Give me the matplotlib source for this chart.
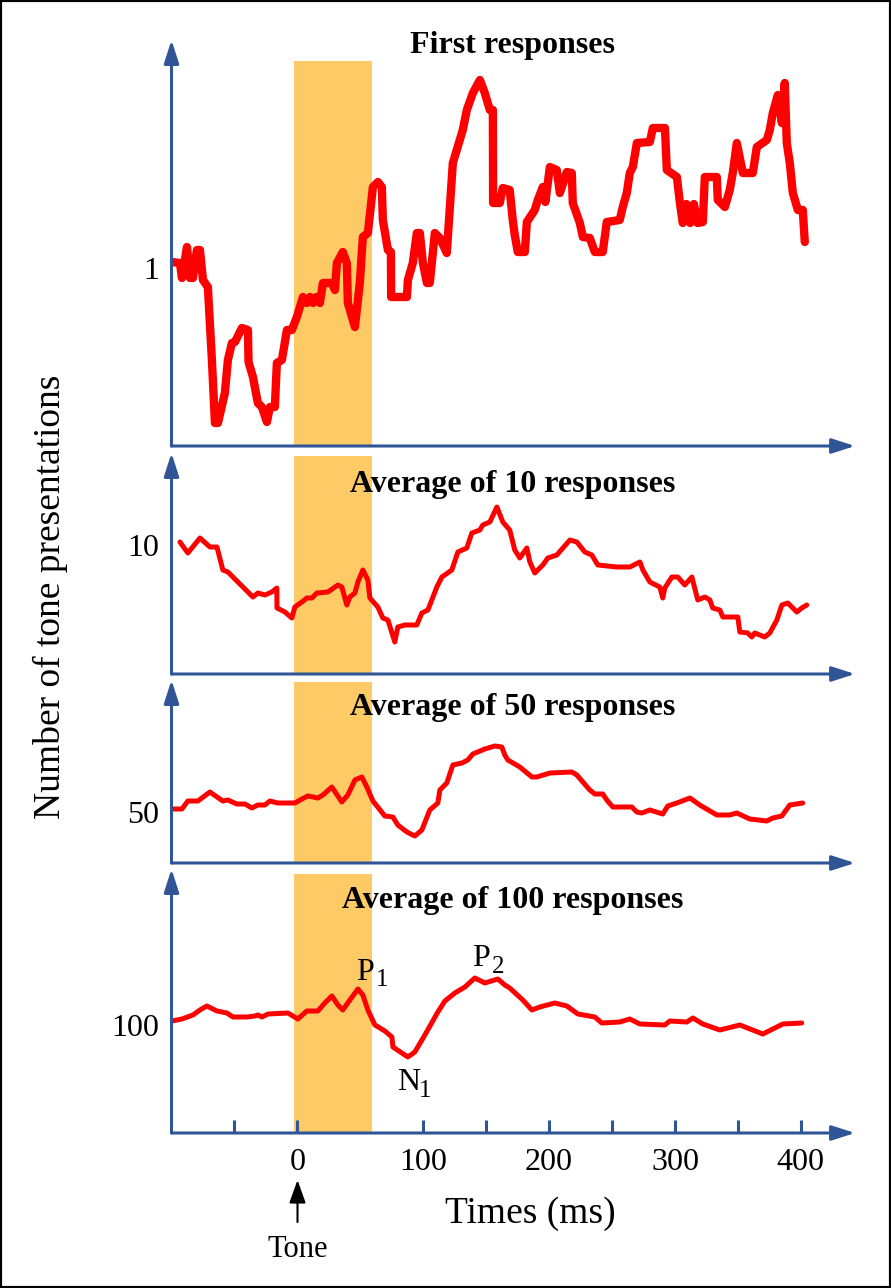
import numpy as np
import matplotlib
matplotlib.use('Agg')
import matplotlib.pyplot as plt
from matplotlib.patches import Rectangle, FancyArrowPatch

plt.rcParams['font.family'] = 'Liberation Serif'

# time in ms, amplitude in arbitrary units (0 = level of the y label)
first_t = [-99.7, -93.3, -91.7, -87.7, -85.3, -83.8, -83.0, -79.8, -77.4, -75.0,
           -71.1, -69.5, -67.9, -65.5, -63.1, -57.6, -55.2, -52.0, -49.6, -44.1,
           -39.3, -38.8, -35.3, -31.4, -28.2, -24.2, -21.8, -17.9, -16.3, -12.3,
           -8.3, -4.4, -0.4, 4.4, 7.5, 10.0, 12.5, 15.0, 17.9, 20.3,
           27.4, 29.8, 31.4, 36.1, 39.3, 40.1, 45.7, 49.6, 52.0, 56.0,
           60.0, 64.0, 67.1, 67.9, 71.9, 74.3, 74.5, 87.0, 87.8, 91.7,
           94.9, 97.3, 99.7, 102.9, 105.2, 109.2, 113.2, 118.7, 123.5, 131.4,
           134.6, 139.4, 145.0, 148.9, 152.9, 155.3, 155.5, 160.8, 163.2, 168.7,
           171.1, 172.7, 175.1, 180.7, 182.3, 188.6, 191.0, 195.0, 197.0, 200.6,
           206.1, 208.5, 214.1, 218.0, 218.8, 224.4, 226.8, 232.3, 236.3, 242.6,
           245.8, 256.1, 258.5, 261.7, 264.1, 266.5, 269.7, 280.0, 282.4, 292.0,
           293.5, 301.5, 303.9, 306.2, 309.0, 312.0, 315.0, 318.0, 322.1, 323.7,
           333.2, 334.0, 339.6, 343.5, 345.9, 349.1, 353.9, 361.8, 365.0, 372.9,
           375.3, 377.7, 381.7, 384.9, 387.2, 388.8, 391.2, 393.6, 397.6, 401.5,
           403.1]
first_a = [0.6, 0.5, -1.0, 2.1, -1.0, 0.8, -1.0, 1.8, 1.8, -1.2,
           -1.9, -5.5, -9.2, -15.5, -15.5, -12.5, -9.2, -7.5, -7.4, -6.0,
           -6.2, -9.4, -10.9, -13.5, -13.9, -15.4, -13.9, -13.9, -9.5, -9.2,
           -6.2, -6.2, -4.9, -2.9, -3.5, -2.9, -3.5, -2.9, -3.5, -1.5,
           -1.5, -2.2, 0.5, 1.6, 0.5, -3.5, -5.9, -1.5, 3.1, 3.5,
           8.1, 8.6, 8.1, 4.8, 1.8, 1.6, -2.9, -2.9, -1.2, 0.5,
           3.5, 3.5, 0.5, -1.5, -1.5, 3.5, 3.0, 1.5, 10.5, 13.8,
           15.8, 17.5, 18.8, 17.5, 15.8, 15.8, 6.5, 6.5, 8.0, 7.8,
           4.8, 3.3, 1.6, 1.6, 4.6, 5.8, 6.8, 8.1, 6.6, 10.1,
           9.8, 7.5, 9.6, 9.5, 6.5, 4.5, 3.1, 3.0, 1.6, 1.6,
           4.6, 4.8, 6.1, 7.5, 9.5, 10.1, 12.5, 12.6, 14.0, 14.0,
           9.8, 9.1, 6.5, 4.5, 6.4, 4.5, 6.4, 4.5, 4.6, 9.1,
           9.1, 6.8, 6.1, 7.8, 9.5, 12.5, 9.5, 9.5, 12.1, 12.8,
           13.8, 15.5, 17.3, 14.5, 18.5, 12.5, 10.5, 7.5, 5.8, 5.8,
           2.6]

avg10_t = [-93.3, -87.0, -77.4, -69.5, -63.9, -59.2, -55.2, -35.3, -31.4, -25.8,
           -20.3, -16.3, -16.2, -9.9, -4.4, -2.0, 3.6, 7.5, 11.5, 15.5,
           24.2, 32.2, 35.3, 39.3, 41.7, 45.7, 48.1, 52.0, 56.0, 57.6,
           63.9, 67.9, 71.9, 77.4, 79.8, 85.4, 94.9, 98.9, 103.7, 106.8,
           110.8, 114.8, 122.7, 127.5, 134.6, 138.6, 145.0, 147.3, 152.9, 158.5,
           163.2, 168.7, 172.7, 176.7, 182.3, 184.7, 188.6, 195.0, 199.0, 206.1,
           216.5, 222.0, 228.4, 233.9, 238.7, 253.8, 264.1, 272.1, 274.5, 280.0,
           287.9, 290.3, 291.9, 297.5, 302.2, 307.8, 313.4, 318.1, 323.7, 327.7,
           330.0, 335.6, 338.0, 349.9, 351.5, 357.8, 361.0, 363.4, 371.3, 375.3,
           380.9, 384.9, 389.6, 396.8, 400.7, 404.7]
avg10_a = [0.3, -0.8, 0.7, -0.2, -0.2, -2.5, -2.7, -5.2, -4.8, -5.0,
           -4.7, -4.3, -6.3, -6.7, -7.3, -6.2, -5.7, -5.3, -5.3, -4.8,
           -4.7, -4.0, -4.2, -6.0, -5.2, -4.8, -3.7, -2.5, -3.5, -5.3,
           -6.2, -7.3, -7.5, -9.7, -8.2, -8.0, -8.0, -6.8, -6.5, -5.5,
           -4.2, -3.2, -2.5, -0.7, -0.3, 1.2, 1.5, 2.0, 2.3, 3.8,
           2.3, 1.5, -0.5, -1.3, -0.3, -1.7, -2.8, -2.0, -1.3, -1.0,
           0.5, 0.3, -0.7, -1.0, -2.0, -2.2, -2.2, -1.7, -2.5, -3.7,
           -4.2, -5.3, -4.3, -3.2, -3.2, -4.0, -3.2, -5.5, -5.2, -5.5,
           -6.3, -6.5, -7.2, -7.2, -8.7, -8.8, -9.2, -8.8, -9.2, -8.8,
           -7.5, -6.0, -5.8, -6.7, -6.3, -6.0]

avg50_t = [-99.7, -91.7, -87.0, -79.0, -69.5, -59.2, -55.2, -48.1, -41.7, -36.1,
           -31.4, -25.8, -21.8, -15.5, -2.0, 3.6, 8.3, 16.3, 20.3, 27.4,
           35.3, 40.1, 45.7, 51.2, 55.2, 60.0, 69.5, 75.9, 79.8, 87.0,
           93.3, 98.9, 105.2, 111.6, 113.2, 118.7, 123.5, 130.7, 135.4, 139.4,
           148.9, 156.9, 162.4, 164.8, 167.2, 176.7, 186.3, 190.2, 200.6, 218.0,
           222.0, 232.3, 236.3, 242.6, 245.8, 250.6, 265.7, 269.7, 273.7, 280.0,
           290.3, 294.3, 301.5, 311.8, 319.7, 333.2, 343.5, 349.1, 359.4, 372.9,
           377.7, 384.9, 391.2, 401.5]
avg50_a = [0.3, 0.3, 1.1, 1.1, 2.0, 1.1, 1.2, 0.8, 0.8, 0.4,
           0.7, 0.7, 1.1, 0.9, 0.9, 1.3, 1.6, 1.4, 1.7, 2.5,
           1.0, 1.7, 3.2, 3.5, 2.5, 1.1, -0.4, -0.5, -1.3, -2.0,
           -2.4, -1.8, 0.2, 0.9, 2.2, 2.9, 4.7, 4.9, 5.2, 5.8,
           6.3, 6.6, 6.5, 5.7, 5.2, 4.5, 3.5, 3.5, 3.9, 4.0,
           3.7, 2.2, 1.8, 1.8, 1.2, 0.5, 0.5, 0.0, -0.1, 0.2,
           -0.2, 0.6, 0.9, 1.4, 0.7, -0.3, -0.3, -0.1, -0.7, -0.9,
           -0.6, -0.4, 0.7, 0.9]

avg100_t = [-99.7, -91.7, -83.0, -77.4, -71.9, -63.9, -56.0, -51.2, -40.1, -33.8,
            -31.4, -28.2, -23.4, -7.5, 0.4, 7.5, 16.3, 21.8, 27.4, 32.2,
            36.1, 41.7, 48.1, 52.0, 56.0, 61.6, 69.5, 75.1, 75.9, 83.0,
            87.8, 93.3, 101.3, 111.6, 117.2, 125.1, 133.1, 141.0, 148.9, 159.3,
            164.8, 168.7, 179.1, 186.3, 192.6, 204.5, 214.1, 222.8, 236.3, 241.9,
            256.1, 264.1, 272.1, 291.9, 295.9, 309.4, 314.2, 322.1, 335.6, 351.5,
            369.8, 385.7, 400.7]
avg100_a = [0.4, 0.6, 1.0, 1.5, 1.9, 1.4, 1.2, 0.8, 0.8, 0.9,
            1.0, 0.8, 1.1, 1.2, 0.6, 1.4, 1.4, 2.2, 2.9, 2.0,
            1.5, 2.5, 3.6, 3.0, 1.5, 0.0, -0.6, -1.2, -2.2, -2.8,
            -3.2, -2.7, -1.0, 1.3, 2.4, 3.2, 3.8, 4.7, 4.2, 4.6,
            4.0, 3.7, 2.5, 1.5, 1.8, 2.2, 1.9, 1.1, 0.8, 0.2,
            0.3, 0.6, 0.1, 0.0, 0.4, 0.3, 0.7, 0.1, -0.5, 0.0,
            -0.9, 0.1, 0.2]

titles = ['First responses', 'Average of 10 responses',
          'Average of 50 responses', 'Average of 100 responses']
level_labels = ['1', '10', '50', '100']
tick_ms = [-50, 0, 100, 150, 200, 250, 300, 350, 400]
tick_labels = ['', '0', '100', '', '200', '', '300', '', '400']
tone_start, tone_end = -3, 59

# peak names: letter, index, position (ms, amplitude)
peak_names = [('P', '1', 54, 5.3), ('P', '2', 146, 6.6), ('N', '1', 88.5, -5.8)]

W, H = 891, 1288
BLUE = '#2F5597'
ORANGE = '#FDCA66'
RED = '#FF0000'

# layout in pixels: x-axis row, arrow top, label level, band top, title baseline, line width
layout = [(446, 40, 268, 61, 53, 6.0),
          (674, 453, 545, 456, 492, 3.6),
          (863, 680, 812, 682, 715, 3.6),
          (1133, 869, 1025, 874, 908, 3.6)]
series = [(first_t, first_a), (avg10_t, avg10_a), (avg50_t, avg50_a), (avg100_t, avg100_a)]

fig = plt.figure(figsize=(W / 100, H / 100), dpi=100)
left_px, right_px = 171.5, 855

axes = []
for i, ((t, a), (xrow, top, base, band_top, title_y, lw)) in enumerate(zip(series, layout)):
    ax = fig.add_axes([left_px / W, 1 - xrow / H, (right_px - left_px) / W, (xrow - top) / H])
    ax.set_facecolor('none')
    ax.set_xlim(-100, 443)
    ax.set_ylim((base - xrow) / 10, (base - top) / 10)
    for s in ax.spines.values():
        s.set_visible(False)

    ax.axvspan(tone_start, tone_end, ymin=0, ymax=(xrow - band_top) / (xrow - top),
               color=ORANGE, lw=0, zorder=1)
    ax.plot(t, a, color=RED, lw=lw, solid_joinstyle='round', solid_capstyle='round', zorder=3)

    arrow = dict(arrowstyle='-|>,head_length=1.4,head_width=0.45', mutation_scale=10,
                 color=BLUE, lw=2.2, shrinkA=0, shrinkB=0)
    ax.annotate('', xy=(1, 0), xytext=(0, 0), xycoords='axes fraction', arrowprops=arrow)
    ax.annotate('', xy=(0, 1), xytext=(0, 0), xycoords='axes fraction', arrowprops=arrow)

    ax.set_yticks([0])
    ax.set_yticklabels([level_labels[i]])
    ax.tick_params(axis='y', length=0, pad=9, labelsize=23)
    if i == 3:
        ax.set_xticks(tick_ms)
        ax.set_xticklabels(tick_labels)
        ax.tick_params(axis='x', direction='in', length=9.5, width=2.2, color=BLUE,
                       pad=11, labelsize=23)
    else:
        ax.set_xticks([])

    fig.text(513 / W, 1 - title_y / H, titles[i], ha='center', va='baseline',
             fontsize=23, fontweight='bold')
    axes.append(ax)

ax4 = axes[3]
for letter, sub, t0, a0 in peak_names:
    ax4.text(t0, a0, letter, ha='center', va='center', fontsize=23)
    ax4.annotate(sub, xy=(t0, a0), xytext=(12, -6), textcoords='offset points',
                 ha='center', va='center', fontsize=18)

fig.add_artist(FancyArrowPatch((297.5 / W, 1 - 1222 / H), (297.5 / W, 1 - 1180 / H),
                               transform=fig.transFigure,
                               arrowstyle='-|>,head_length=1.4,head_width=0.5',
                               mutation_scale=10, color='black', lw=1.5,
                               shrinkA=0, shrinkB=0))
fig.text(297.5 / W, 1 - 1257 / H, 'Tone', ha='center', va='baseline', fontsize=22)
fig.text(530 / W, 1 - 1223 / H, 'Times (ms)', ha='center', va='baseline', fontsize=27)
fig.text(50 / W, 1 - 597 / H, 'Number of tone presentations', rotation=90,
         ha='center', va='center', fontsize=27)

fig.add_artist(Rectangle((0, 0), 1, 1, transform=fig.transFigure, fill=False,
                         edgecolor='black', lw=3))

fig.savefig('out.png', dpi=100)
